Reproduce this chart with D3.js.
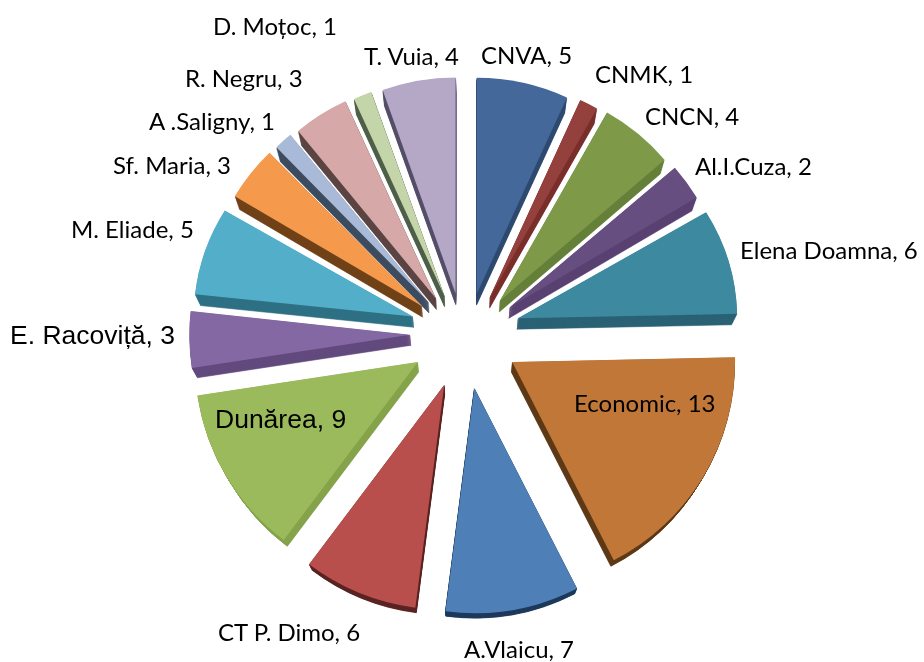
<!DOCTYPE html>
<html>
<head>
<meta charset="utf-8">
<script src="https://cdn.jsdelivr.net/npm/d3@7"></script>
<style>
  html, body { margin: 0; padding: 0; background: #fff; }
  text { fill: #000; }
</style>
</head>
<body>
<div id="chart"></div>
<script>
const schools = ['CNVA', 'CNMK', 'CNCN', 'Al.I.Cuza', 'Elena Doamna', 'Economic', 'A.Vlaicu', 'CT P. Dimo',
    'Dunărea', 'E. Racoviță', 'M. Eliade', 'Sf. Maria', 'A .Saligny', 'R. Negru', 'D. Moțoc', 'T. Vuia'];
const counts = [5, 1, 4, 2, 6, 13, 7, 6, 9, 3, 5, 3, 1, 3, 1, 4];

const topColors = ['#44689a', '#94403d', '#7e9a4a', '#664f80', '#3c8aa0', '#c17738', '#4f7fb7', '#b9504e',
    '#9bba5b', '#8368a3', '#53afc9', '#f59a4e', '#a9bad8', '#d6a8a7', '#c5d5aa', '#b5a8c6'];
const sideColors = ['#2f4a70', '#7a2f2d', '#66803a', '#5a4272', '#2c6375', '#5f3a16', '#1f3b5c', '#5c2523',
    '#86a34c', '#634a7e', '#2f7084', '#70431a', '#3f4d60', '#5c4544', '#50604a', '#55506a'];

// label placement, by hand like the moved labels in the original
const labelX = [481, 595, 645, 695, 740, 574, 464, 218, 215, 10, 71, 113, 149, 185, 213, 364];
const labelY = [64, 83, 125, 175, 259, 412, 658, 641, 428, 344, 238, 174, 130, 87, 35, 65];
const arialLabels = ['Dunărea', 'E. Racoviță'];

const width = 924, height = 662;
const cx = 465;
const vanish = [465, 860], depthScale = 0.98, depthSteps = 14;

const svg = d3.select('#chart').append('svg')
    .attr('width', width)
    .attr('height', height)
    .style('display', 'block');

const defs = svg.append('defs');
defs.append('filter').attr('id', 'soft')
    .append('feGaussianBlur').attr('stdDeviation', 0.55);

const pie = d3.pie().sort(null).value(d => d);
const arcs = pie(counts);

// explosion is smaller toward the back of the tilted pie
const offsetY = d3.scaleLinear().domain([-1, -0.3, 1]).range([-43, -19, 53]);
const radius = d3.scaleLinear().domain([-1, 1]).range([216, 225]);
// the slices at the upper sides look a bit flatter
const flatten = d3.scaleLinear().domain([-0.8, -0.55, -0.3, 0]).range([1, 0.98, 0.94, 1]).clamp(true);

const slices = arcs.map((a, i) => {
    const mid = (a.startAngle + a.endAngle) / 2;
    const u = -Math.cos(mid);
    return {
        ...a, i,
        x: cx + 55 * Math.sin(mid),
        y: 336 + offsetY(u),
        r: radius(u),
        sy: flatten(u)
    };
});

const arcPath = d => d3.arc().innerRadius(0).outerRadius(d.r)
    .startAngle(d.startAngle).endAngle(d.endAngle)();
const place = d => `translate(${d.x},${d.y}) scale(1,${d.sy})`;

const chart = svg.append('g').attr('filter', 'url(#soft)');

// Extruded sides: copies of the slice shrinking toward the vanishing point
d3.range(depthSteps, 0, -1).forEach(step => {
    const s = 1 - (1 - depthScale) * step / depthSteps;
    chart.append('g')
        .attr('transform', `translate(${vanish[0]},${vanish[1]}) scale(${s}) translate(${-vanish[0]},${-vanish[1]})`)
        .selectAll('path')
        .data(slices)
        .enter()
        .append('path')
        .attr('transform', place)
        .attr('d', arcPath)
        .attr('fill', d => sideColors[d.i])
        .attr('stroke', d => sideColors[d.i])
        .attr('stroke-width', 0.6);
});

// Top faces
chart.append('g')
    .selectAll('path')
    .data(slices)
    .enter()
    .append('path')
    .attr('transform', place)
    .attr('d', arcPath)
    .attr('fill', d => topColors[d.i]);

// Labels
svg.append('g')
    .selectAll('text')
    .data(slices)
    .enter()
    .append('text')
    .attr('x', d => labelX[d.i])
    .attr('y', d => labelY[d.i])
    .style('font-family', d => arialLabels.includes(schools[d.i]) ? '"Liberation Sans", Arial, sans-serif' : 'Lato, sans-serif')
    .style('font-size', d => arialLabels.includes(schools[d.i]) ? '26.5px' : '24px')
    .text(d => `${schools[d.i]}, ${counts[d.i]}`);
</script>
</body>
</html>
